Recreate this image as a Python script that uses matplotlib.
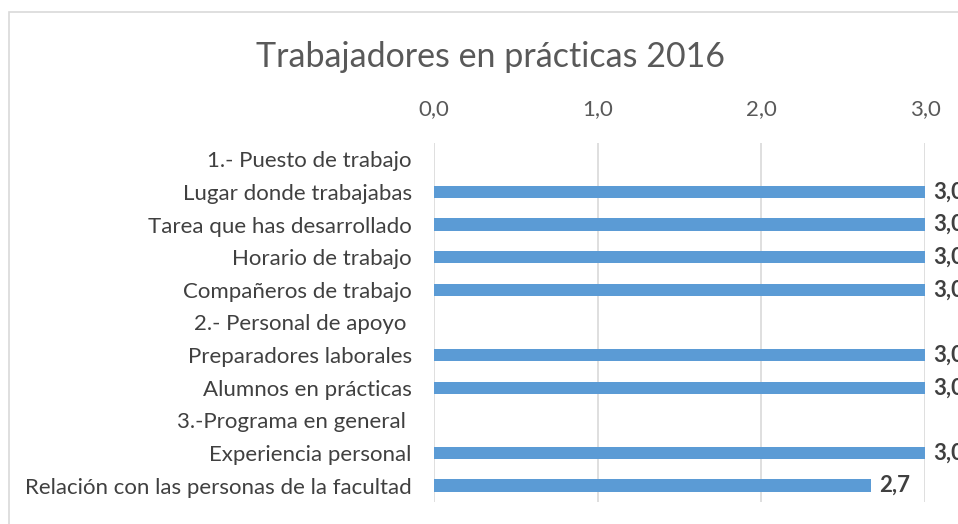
import matplotlib.pyplot as plt
import numpy as np
from matplotlib.patches import Rectangle

categories = [
    "1.- Puesto de trabajo",
    "Lugar donde trabajabas",
    "Tarea que has desarrollado",
    "Horario de trabajo",
    "Compañeros de trabajo",
    "2.- Personal de apoyo ",
    "Preparadores laborales",
    "Alumnos en prácticas",
    "3.-Programa en general ",
    "Experiencia personal",
    "Relación con las personas de la facultad",
]
values = [np.nan, 3.0, 3.0, 3.0, 3.0, np.nan, 3.0, 3.0, np.nan, 3.0, 2.67]
ticks = [0, 1, 2, 3]
tick_labels = ["0,0", "1,0", "2,0", "3,0"]
title = "Trabajadores en prácticas 2016"

plt.rcParams['font.family'] = ['Lato', 'DejaVu Sans']

fig = plt.figure(figsize=(9.58, 5.24), dpi=100)
fig.patch.set_facecolor('white')
# chart border (extends beyond the cropped image)
fig.patches.append(Rectangle((9/958, -0.1), 1.2, (524-12)/524 + 0.1,
                             transform=fig.transFigure, fill=False,
                             edgecolor='#d9d9d9', linewidth=1.2))

ax = fig.add_axes([434/958, 1-502/524, (925-434)/958, (502-143)/524])
y = np.arange(len(categories))
vals = np.array(values, dtype=float)
mask = ~np.isnan(vals)
ax.barh(y[mask], vals[mask], height=0.38, color='#5b9bd5', zorder=3)
ax.set_ylim(len(categories) - 0.5, -0.5)
ax.set_xlim(0, 3)
ax.set_yticks(y)
ax.set_yticklabels(categories, fontsize=16, color='#404040')
ax.set_xticks(ticks)
ax.set_xticklabels(tick_labels, fontsize=16, color='#595959')
ax.xaxis.tick_top()
ax.tick_params(axis='both', length=0)
ax.tick_params(axis='x', pad=17)
ax.tick_params(axis='y', pad=16)
for s in ax.spines.values():
    s.set_visible(False)
ax.grid(axis='x', color='#d9d9d9', linewidth=1.2, zorder=0)
ax.set_axisbelow(True)

for yi, v in zip(y[mask], vals[mask]):
    ax.annotate(f"{v:.1f}".replace('.', ','), (v, yi), xytext=(6, 0),
                textcoords='offset points', va='center', ha='left',
                fontsize=16, fontweight='bold', color='#404040',
                annotation_clip=False)

fig.text(490/958, 1-57/524, title, ha='center', va='center',
         fontsize=24.5, color='#595959')

fig.savefig('out.png', dpi=100)
